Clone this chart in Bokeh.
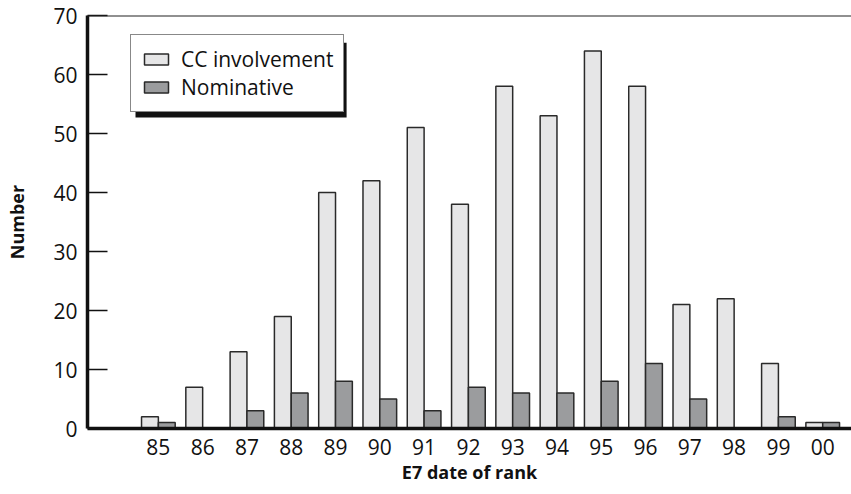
from bokeh.plotting import figure
from bokeh.models import (ColumnDataSource, FixedTicker, Span, Legend, LegendItem,
                          BoxAnnotation)
from bokeh.transform import dodge
from bokeh.embed import file_html
from bokeh.resources import INLINE

years = ["85", "86", "87", "88", "89", "90", "91", "92", "93", "94", "95", "96", "97", "98", "99", "00"]
cc_involvement = [2, 7, 13, 19, 40, 42, 51, 38, 58, 53, 64, 58, 21, 22, 11, 1]
nominative = [1, 0, 3, 6, 8, 5, 3, 7, 6, 6, 8, 11, 5, 0, 2, 1]
y_ticks = [0, 10, 20, 30, 40, 50, 60, 70]

pos = list(range(len(years)))
src = ColumnDataSource(dict(x=pos, cc=cc_involvement, nom=nominative))

FONT = "Open Sans"

p = figure(width=851, height=494, output_backend="svg", toolbar_location=None,
           x_range=(-1.6, 15.65), y_range=(0, 70),
           min_border_left=87, min_border_right=0, min_border_top=15, min_border_bottom=66)
p.outline_line_color = None
p.grid.grid_line_color = None
p.background_fill_color = "white"
p.border_fill_color = "white"

# shadow for legend (drawn under legend)
shadow = BoxAnnotation(left=-0.516, right=4.25, top=65.4, bottom=52.7,
                       fill_color="#111111", fill_alpha=1.0, line_color=None, level="overlay")
p.add_layout(shadow)

r1 = p.vbar(x=dodge("x", -0.19), top="cc", width=0.38, source=src,
            fill_color="#e6e6e7", line_color="#2a2a2a", line_width=1.5)
r2 = p.vbar(x=dodge("x", 0.19), top="nom", width=0.38, source=src,
            fill_color="#9b9c9e", line_color="#2a2a2a", line_width=1.5)

p.add_layout(Span(location=70, dimension="width", line_color="#222222", line_width=2))

# x axis
p.xaxis.ticker = FixedTicker(ticks=pos)
p.xaxis.major_label_overrides = {i: y for i, y in enumerate(years)}
p.xaxis.major_tick_line_color = None
p.xaxis.minor_tick_line_color = None
p.xaxis.axis_line_width = 3.5
p.xaxis.axis_line_color = "#111111"
p.xaxis.major_label_text_font = FONT
p.xaxis.major_label_text_font_size = "21px"
p.xaxis.major_label_text_color = "#111111"
p.xaxis.major_label_standoff = 4
p.xaxis.axis_label = "E7 date of rank"
p.xaxis.axis_label_text_font = FONT
p.xaxis.axis_label_text_font_style = "bold"
p.xaxis.axis_label_text_font_size = "18px"
p.xaxis.axis_label_text_color = "#111111"
p.xaxis.axis_label_standoff = 2

# y axis
p.yaxis.ticker = FixedTicker(ticks=y_ticks)
p.yaxis.minor_tick_line_color = None
p.yaxis.major_tick_in = 20
p.yaxis.major_tick_out = 0
p.yaxis.major_tick_line_width = 1.5
p.yaxis.major_tick_line_color = "#111111"
p.yaxis.axis_line_width = 3.5
p.yaxis.axis_line_color = "#111111"
p.yaxis.major_label_text_font = FONT
p.yaxis.major_label_text_font_size = "21px"
p.yaxis.major_label_text_color = "#111111"
p.yaxis.major_label_standoff = 10
p.yaxis.axis_label = "Number"
p.yaxis.axis_label_text_font = FONT
p.yaxis.axis_label_text_font_style = "bold"
p.yaxis.axis_label_text_font_size = "18px"
p.yaxis.axis_label_text_color = "#111111"
p.yaxis.axis_label_standoff = 21

legend = Legend(items=[LegendItem(label="CC involvement", renderers=[r1]),
                       LegendItem(label="Nominative", renderers=[r2])],
                location=(43, 316), orientation="vertical")
legend.label_text_font = FONT
legend.label_text_font_size = "21px"
legend.label_text_color = "#111111"
legend.glyph_width = 30
legend.glyph_height = 14
legend.label_height = 20
legend.label_standoff = 10
legend.spacing = 0
legend.padding = 10
legend.margin = 0
legend.border_line_color = "#111111"
legend.border_line_width = 1.5
legend.background_fill_color = "white"
legend.background_fill_alpha = 1.0
p.add_layout(legend, "center")

open("out.html", "w").write(file_html(p, INLINE))
